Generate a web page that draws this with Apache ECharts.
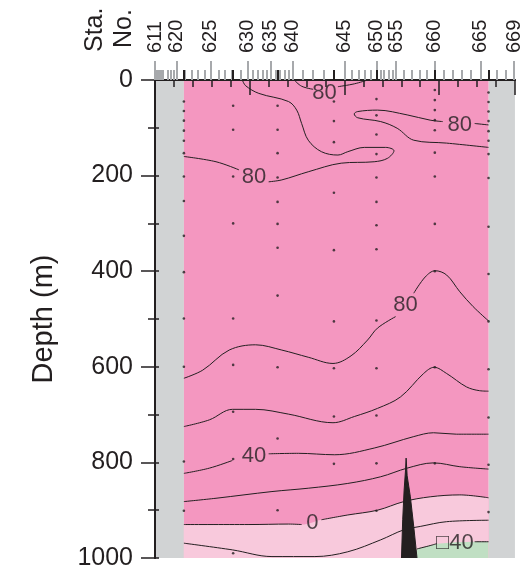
<!DOCTYPE html>
<html><head><meta charset="utf-8">
<script src="https://cdn.jsdelivr.net/npm/echarts@6/dist/echarts.min.js"></script>
<style>html,body{margin:0;padding:0;background:#fff}#c{width:524px;height:576px}</style>
</head><body><div id="c"></div>
<script>
// ---- stations (number, distance along section in km) ----
const stationNo = [611,612,613,614,615,616,617,618,619,620,621,622,623,624,625,626,627,628,629,630,631,632,633,634,635,636,637,638,639,640,641,642,643,644,645,646,647,648,649,650,651,652,653,654,655,656,657,658,659,660,661,662,663,664,665,666,667,668,669];
const stationKm = [0,1.5,3,4.5,6,8,13.5,16.5,20,23,31,38.5,45,52,58.5,67,74,81.5,90,98,103.5,108.5,114,118,122,127.5,131.5,136.5,141,145,155.5,167,178.5,189,200.5,207.5,215,221.5,227.5,234,238,242,246.5,250.5,254.5,263,271.5,279.5,287,295.5,305,314,323.5,333,343.5,352,361,370.5,379];
const labeledStations = [611,620,625,630,635,640,645,650,655,660,665,669];

// ---- profile (bottle) stations and sample depths (m) ----
const profileKm = [30.5, 82.5, 129.4, 188.9, 233.8, 295.4, 352.1];
const profileDepths = [
  [45,65,85,106,127,153,202,253,326,402,499,600,798,901],
  [54,104,202,300,499,596,694,793,990],
  [54,104,153,204,255,301,351,451,601,750,900],
  [45,86,130,236,356,505,603,704,803],
  [40,74,114,155,204,255,304,354,503,603,702,802,901],
  [21,42,63,84,105,152,202,301,400,601,802],
  [26,46,66,86,107,127,155,205,307,406,505,605,706,805,904]
];
const depthTicks = [0,200,400,600,800,1000];

// ---- contour lines: segments of [km, depth] (gaps where labels sit) ----
const c80top = [[[146.9,0],[154.8,13],[167,19.5]], [[193.1,14],[210.5,8],[224.4,0]]];
const c80upper = [[[92.2,0],[95.7,12],[109.6,28],[140.9,45],[149.6,63],[154.8,91],[161.8,126],[175.7,150],[193.1,157],[203.5,150],[221,141],[243.5,141],[252.3,148],[245.3,164],[231.4,171],[196.6,174],[161.8,192],[133.9,209],[120,213]],
                  [[88.7,188],[64.4,171],[30.5,160]]];
const c80right = [[[352.1,94],[337.5,91]], [[303.8,87],[290.5,84],[266.2,73],[234.9,63],[214,66],[210.3,71],[214,79],[238.3,87],[255.7,101],[273.2,126],[307.9,132],[352.1,141]]];
const c80deep = [[[30.5,624],[50.4,607],[78.3,565],[106.2,554],[133.9,565],[161.8,580],[187.9,593],[207,577],[224.4,544],[234.9,519],[254,495]],
                 [[273.2,446],[285.3,412],[295.7,399],[307.9,408],[321.8,443],[335.8,474],[352.1,504]]];
const c60 = [[[30.5,725],[57.4,711],[81.7,689],[106.2,689],[140.9,699],[187.9,717],[210.5,704],[234.9,687],[259.2,663],[283.6,614],[294.7,601],[307.9,614],[328.8,642],[342.7,650],[352.1,651]]];
const c40 = [[[30.5,823],[57.4,812],[81.7,796]], [[120,782],[151.4,781],[189.7,784],[231.4,770],[273.2,746],[294,738],[318.4,741],[352.1,741]]];
const c20 = [[[30.5,882],[64.4,875],[123.5,861],[161.8,854],[203.5,844],[238.3,830],[266.2,812],[294,801],[321.8,809],[352.1,814]]];
const c0 = [[[30.5,930],[99.2,930],[141,929],[154.8,930]], [[175.7,920],[203.5,910],[234.9,900],[262.7,882],[290.5,872],[321.8,868],[352.1,874]]];
const cm20 = [[[30.5,969],[81.7,983],[123.5,997],[168.8,997],[203.5,987],[238.3,962],[262.7,941],[280,934],[307.9,924],[352.1,921]]];
const cm40 = [[[276.6,981],[290.5,974],[297.5,970]], [[337.5,966],[352.1,966]]];

// ---- bottom topography (seamount) outline ----
const seamount = [[260.2,1000],[261.5,920],[263,858],[264.5,816],[265.1,791],[266.2,828],[269.6,872],[273.2,935],[276.6,1000]];

// ---- contour labels ----
const labelKm = [179, 104.4, 321.8, 264.4, 104.4, 166.2, 316.6];
const labelDepth = [28, 202, 93, 471, 786, 926, 968];
const labelText = ['80','80','80','80','40','0','\u25A140'];

const X_MIN = 0, X_MAX = 380;
const INK = '#231f20';
const FONT = '"Liberation Sans", Arial, Helvetica, sans-serif';
const PINK = '#f497c0', LPINK = '#f8c9dc', GREEN = '#c0dfc3', GREY = '#d1d3d4', TICKGREY = '#a7a9ac';

const labeledKm = labeledStations.map(s => stationKm[stationNo.indexOf(s)]);

function area(pts, color, z, smooth) {
  return {type:'line', data: pts, smooth: smooth, symbol:'none', silent:true, z: z,
    lineStyle:{width:0, opacity:0}, areaStyle:{color: color, opacity:1, origin:'end'}};
}
function lines(segs, z) {
  return segs.map(seg => ({type:'line', data: seg, smooth: 0.35, symbol:'none', silent:true, z: z,
    lineStyle:{color: INK, width: 1}}));
}
const flat = segs => segs.reduce((a, s) => a.concat(s), []);

const series = [];
series.push(area([[X_MIN,0],[profileKm[0],0]], GREY, 1, false));
series.push(area([[profileKm[profileKm.length-1],0],[X_MAX,0]], GREY, 1, false));
series.push(area([[profileKm[0],0],[profileKm[profileKm.length-1],0]], PINK, 1, false));
series.push(area(flat(c0), LPINK, 2, 0.35));
series.push(area(flat(cm40), GREEN, 2, 0.35));
[c80top, c80upper, c80right, c80deep, c60, c40, c20, c0, cm20, cm40].forEach(c => lines(c, 3).forEach(s => series.push(s)));
series.push({type:'line', data: seamount, symbol:'none', silent:true, z:4,
  lineStyle:{color: INK, width:1}, areaStyle:{color: INK, opacity:1, origin:'end'}});
const dots = [];
profileKm.forEach((x, i) => profileDepths[i].forEach(d => dots.push([x, d])));
series.push({type:'scatter', data: dots, symbolSize: 2.6, itemStyle:{color: INK}, silent:true, z:5});
series.push({type:'scatter', symbolSize: 0, silent:true, z:6,
  data: labelKm.map((x, i) => ({value:[x, labelDepth[i]], name: labelText[i]})),
  label:{show:true, position:'inside', formatter: p => p.name, color: INK, fontSize: 22, fontFamily: FONT}});

const chart = echarts.init(document.getElementById('c'), null, {renderer:'canvas'});
chart.setOption({
  animation: false,
  backgroundColor: '#fff',
  grid: {left:155, right:5, top:80, bottom:18, show:false},
  xAxis: [
    {type:'value', position:'bottom', min:X_MIN, max:X_MAX, interval:100, z:10,
      axisLine:{show:true, lineStyle:{color:INK, width:2}},
      axisTick:{show:true, length:15, lineStyle:{color:INK, width:1.5}},
      minorTick:{show:true, splitNumber:5, length:7, lineStyle:{color:INK, width:1.5}},
      axisLabel:{show:false}, splitLine:{show:false}},
    {type:'value', position:'top', offset:0, min:X_MIN, max:X_MAX, z:10,
      axisLine:{show:true, lineStyle:{color:INK, width:2}},
      axisTick:{show:true, customValues: stationKm, length:10, lineStyle:{color:TICKGREY, width:2}},
      axisLabel:{show:false}, splitLine:{show:false}},
    {type:'value', position:'top', offset:0, min:X_MIN, max:X_MAX, z:10,
      axisLine:{show:false},
      axisTick:{show:true, customValues: labeledKm, length:19, lineStyle:{color:TICKGREY, width:2}},
      axisLabel:{show:true, customValues: labeledKm, rotate:-90, margin:27, fontSize:20, fontFamily:FONT, color:INK,
        formatter: v => { const i = labeledKm.findIndex(k => Math.abs(k - v) < 0.01); return i >= 0 ? String(labeledStations[i]) : ''; }},
      splitLine:{show:false}},
    {type:'value', position:'top', offset:0, min:X_MIN, max:X_MAX, z:11,
      axisLine:{show:false},
      axisTick:{show:true, customValues: profileKm, length:10, lineStyle:{color:INK, width:2}},
      axisLabel:{show:false}, splitLine:{show:false}}
  ],
  yAxis: [
    {type:'value', position:'left', inverse:true, min:0, max:1000, interval:200, z:10,
      name:'Depth (m)', nameLocation:'middle', nameRotate:90, nameGap:97,
      nameTextStyle:{fontSize:29, fontFamily:FONT, color:INK},
      axisLine:{show:true, lineStyle:{color:INK, width:2}},
      axisTick:{show:true, length:14, lineStyle:{color:INK, width:1.5}},
      minorTick:{show:true, splitNumber:2, length:7, lineStyle:{color:INK, width:1.5}},
      axisLabel:{show:true, customValues: depthTicks, margin:22, fontSize:25, fontFamily:FONT, color:INK, formatter: v => String(v)},
      splitLine:{show:false}},
    {type:'value', position:'right', inverse:true, min:0, max:1000, interval:100, z:10,
      axisLine:{show:true, lineStyle:{color:INK, width:2}},
      axisTick:{show:true, length:4, lineStyle:{color:INK, width:1.5}},
      axisLabel:{show:false}, splitLine:{show:false}}
  ],
  graphic: [
    {type:'text', x:95, y:52, rotation:Math.PI/2, z:20,
      style:{text:'Sta.', font:'25px ' + FONT, fill:INK, textAlign:'left', textVerticalAlign:'middle'}},
    {type:'text', x:124, y:48, rotation:Math.PI/2, z:20,
      style:{text:'No.', font:'25px ' + FONT, fill:INK, textAlign:'left', textVerticalAlign:'middle'}}
  ],
  series: series
});
</script>
</body></html>
